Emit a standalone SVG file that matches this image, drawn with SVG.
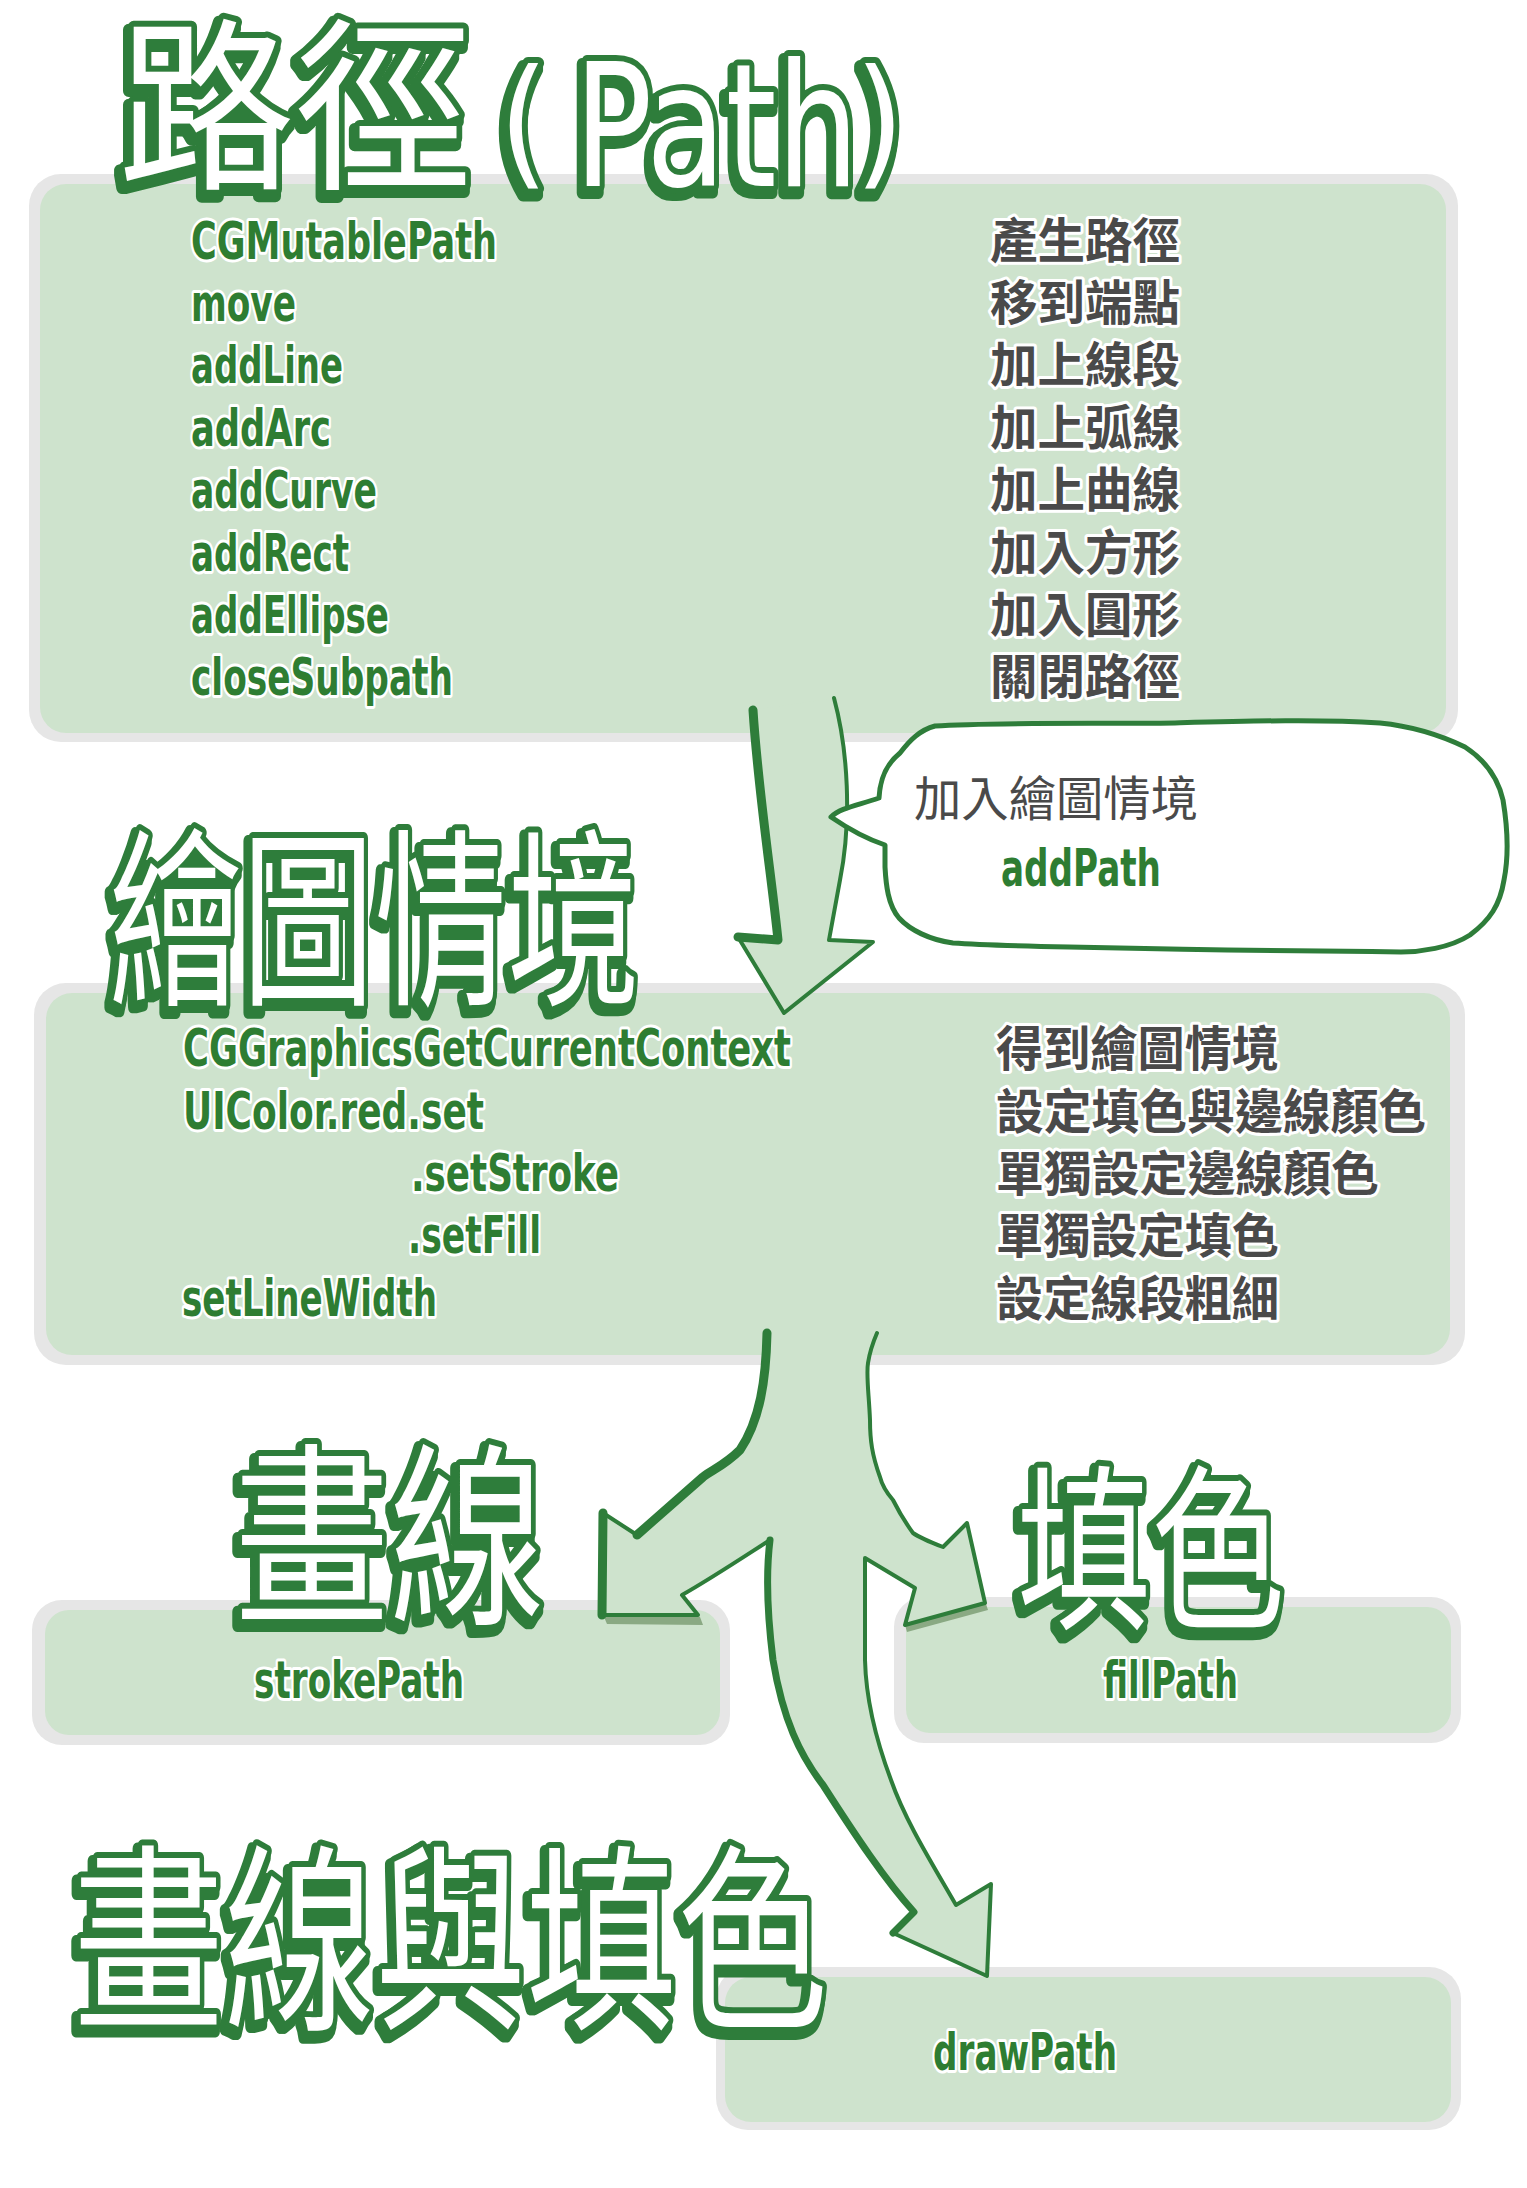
<svg xmlns="http://www.w3.org/2000/svg" width="1527" height="2188" viewBox="0 0 1527 2188">
<defs>
<style>
.bg{fill:#ffffff}
.shadow{fill:#e6e6e6}
.box{fill:#cee3cd}
.code{font-family:"DejaVu Sans Condensed","Liberation Sans Narrow","DejaVu Sans","Liberation Sans",sans-serif;font-weight:bold;font-size:52px;fill:#2e7d32;stroke:#ffffff;stroke-width:6;paint-order:stroke;stroke-linejoin:round}
.zh{font-family:"Noto Sans CJK TC","Noto Sans CJK SC",sans-serif;font-weight:bold;font-size:48px;fill:#4a4a4a;stroke:#ffffff;stroke-width:6;paint-order:stroke;stroke-linejoin:round}
.title{font-family:"Noto Sans CJK TC","Noto Sans CJK SC",sans-serif;font-weight:normal;fill:#ffffff;stroke:#2e7d3a;stroke-width:12;stroke-linejoin:round;paint-order:stroke;filter:url(#tsh)}
.titlel{font-family:"DejaVu Sans Condensed","DejaVu Sans","Liberation Sans",sans-serif;font-weight:normal;fill:#ffffff;stroke:#2e7d3a;stroke-width:12;stroke-linejoin:round;paint-order:stroke;filter:url(#tsh)}
.afill{fill:#cee3cd;stroke:none}
.aline{fill:none;stroke:#2e7d3a;stroke-width:4;stroke-linejoin:round;stroke-linecap:round}
.athick{fill:none;stroke:#2e7d3a;stroke-width:9;stroke-linejoin:round;stroke-linecap:round}
.ashadow{fill:#8aa983;stroke:none}
.bubble{fill:#ffffff;stroke:#2e7d3a;stroke-width:5;stroke-linejoin:round}
</style>
<filter id="tsh" x="-10%" y="-15%" width="120%" height="135%">
<feMorphology in="SourceAlpha" operator="dilate" radius="1.5" result="d"/>
<feOffset in="d" dx="-3" dy="5" result="o"/>
<feFlood flood-color="#2e7d3a"/>
<feComposite in2="o" operator="in" result="s"/>
<feMerge><feMergeNode in="s"/><feMergeNode in="SourceGraphic"/></feMerge>
</filter>
</defs>
<rect class="bg" x="0" y="0" width="1527" height="2188"/>

<g id="node-path">
<rect class="shadow" x="29" y="174" width="1429" height="568" rx="32"/>
<rect class="box" x="40" y="184" width="1406" height="549" rx="26"/>
<text class="code" x="191" y="259" textLength="306" lengthAdjust="spacingAndGlyphs">CGMutablePath</text>
<text class="code" x="191" y="321" textLength="105" lengthAdjust="spacingAndGlyphs">move</text>
<text class="code" x="191" y="383" textLength="152" lengthAdjust="spacingAndGlyphs">addLine</text>
<text class="code" x="191" y="446" textLength="140" lengthAdjust="spacingAndGlyphs">addArc</text>
<text class="code" x="191" y="508" textLength="186" lengthAdjust="spacingAndGlyphs">addCurve</text>
<text class="code" x="191" y="571" textLength="158" lengthAdjust="spacingAndGlyphs">addRect</text>
<text class="code" x="191" y="633" textLength="198" lengthAdjust="spacingAndGlyphs">addEllipse</text>
<text class="code" x="191" y="695" textLength="262" lengthAdjust="spacingAndGlyphs">closeSubpath</text>
<text class="zh" x="990" y="258" textLength="190" lengthAdjust="spacingAndGlyphs">產生路徑</text>
<text class="zh" x="990" y="320" textLength="190" lengthAdjust="spacingAndGlyphs">移到端點</text>
<text class="zh" x="990" y="382" textLength="190" lengthAdjust="spacingAndGlyphs">加上線段</text>
<text class="zh" x="990" y="445" textLength="190" lengthAdjust="spacingAndGlyphs">加上弧線</text>
<text class="zh" x="990" y="507" textLength="190" lengthAdjust="spacingAndGlyphs">加上曲線</text>
<text class="zh" x="990" y="570" textLength="190" lengthAdjust="spacingAndGlyphs">加入方形</text>
<text class="zh" x="990" y="632" textLength="190" lengthAdjust="spacingAndGlyphs">加入圓形</text>
<text class="zh" x="990" y="694" textLength="190" lengthAdjust="spacingAndGlyphs">關閉路徑</text>
</g>

<g id="node-context">
<rect class="shadow" x="34" y="983" width="1431" height="382" rx="32"/>
<rect class="box" x="46" y="993" width="1404" height="362" rx="26"/>
<text class="code" x="183" y="1066" textLength="608" lengthAdjust="spacingAndGlyphs">CGGraphicsGetCurrentContext</text>
<text class="code" x="183" y="1129" textLength="301" lengthAdjust="spacingAndGlyphs">UIColor.red.set</text>
<text class="code" x="411" y="1191" textLength="208" lengthAdjust="spacingAndGlyphs">.setStroke</text>
<text class="code" x="408" y="1253" textLength="133" lengthAdjust="spacingAndGlyphs">.setFill</text>
<text class="code" x="182" y="1316" textLength="255" lengthAdjust="spacingAndGlyphs">setLineWidth</text>
<text class="zh" x="996" y="1066" textLength="283" lengthAdjust="spacingAndGlyphs">得到繪圖情境</text>
<text class="zh" x="996" y="1129" textLength="430" lengthAdjust="spacingAndGlyphs">設定填色與邊線顏色</text>
<text class="zh" x="996" y="1191" textLength="383" lengthAdjust="spacingAndGlyphs">單獨設定邊線顏色</text>
<text class="zh" x="996" y="1253" textLength="283" lengthAdjust="spacingAndGlyphs">單獨設定填色</text>
<text class="zh" x="996" y="1316" textLength="283" lengthAdjust="spacingAndGlyphs">設定線段粗細</text>
</g>

<g id="node-stroke">
<rect class="shadow" x="32" y="1600" width="698" height="145" rx="30"/>
<rect class="box" x="45" y="1610" width="675" height="125" rx="24"/>
<text class="code" x="254" y="1698" font-size="50" textLength="210" lengthAdjust="spacingAndGlyphs">strokePath</text>
</g>

<g id="node-fill">
<rect class="shadow" x="894" y="1597" width="567" height="146" rx="30"/>
<rect class="box" x="906" y="1607" width="545" height="126" rx="24"/>
<text class="code" x="1103" y="1698" font-size="50" textLength="135" lengthAdjust="spacingAndGlyphs">fillPath</text>
</g>

<g id="node-draw">
<rect class="shadow" x="716" y="1967" width="745" height="163" rx="32"/>
<rect class="box" x="725" y="1977" width="726" height="145" rx="26"/>
<text class="code" x="933" y="2070" textLength="184" lengthAdjust="spacingAndGlyphs">drawPath</text>
</g>

<g id="connectors">
<path class="afill" d="M753,710 C758,790 772,880 778,940 L738,937 L784,1013 L873,942 L829,940 L840,880 C852,820 848,750 834,698 Z"/>
<path class="aline" d="M834,698 C848,750 852,820 840,880 L829,940 L873,942 L784,1013 L738,937 L778,940"/>
<path class="athick" d="M753,710 C758,790 772,880 778,940 L738,937"/>

<path class="ashadow" d="M604,1617 L700,1617 L703,1625 L607,1624 Z"/>
<path class="ashadow" d="M905,1625 L986,1604 L988,1610 L907,1632 Z"/>
<path class="afill" d="M767,1333 C766,1380 760,1420 740,1450 C725,1465 712,1470 703,1477 L637,1535 L603,1513 L602,1615 L698,1615 L682,1595 C712,1578 745,1556 770,1540 C765,1580 768,1620 773,1660 C783,1720 800,1755 823,1785 C855,1835 885,1880 914,1912 L893,1933 L987,1976 L991,1884 L956,1905 C930,1860 905,1820 891,1780 C876,1740 866,1700 865,1660 L865,1558 L915,1588 L905,1625 L985,1603 L967,1523 L943,1547 C930,1542 920,1538 913,1533 C905,1522 898,1510 893,1500 C886,1492 882,1485 880,1477 C872,1455 870,1440 870,1420 C869,1395 866,1375 868,1363 C870,1350 874,1340 877,1333 Z"/>
<path class="aline" d="M767,1333 C766,1380 760,1420 740,1450 C725,1465 712,1470 703,1477 L637,1535 L603,1513 L602,1615 L698,1615 L682,1595 C712,1578 745,1556 770,1540 C765,1580 768,1620 773,1660 C783,1720 800,1755 823,1785 C855,1835 885,1880 914,1912 L893,1933 L987,1976 L991,1884 L956,1905 C930,1860 905,1820 891,1780 C876,1740 866,1700 865,1660 L865,1558 L915,1588 L905,1625 L985,1603 L967,1523 L943,1547 C930,1542 920,1538 913,1533 C905,1522 898,1510 893,1500 C886,1492 882,1485 880,1477 C872,1455 870,1440 870,1420 C869,1395 866,1375 868,1363 C870,1350 874,1340 877,1333"/>
<path class="athick" d="M767,1333 C766,1380 760,1420 740,1450 C725,1465 712,1470 703,1477 L637,1535"/>
<path class="athick" d="M603,1513 L602,1615"/>
<path class="athick" style="stroke-width:7" d="M770,1540 C765,1580 768,1620 773,1660 C783,1720 800,1755 823,1785 C855,1835 885,1880 914,1912 L893,1933"/>
</g>

<g id="node-bubble">
<path class="bubble" d="M831,817 C840,808 855,806 879,798 C880,780 885,765 900,753 C910,740 920,730 935,726 C990,722 1100,724 1175,723 C1250,721 1320,719 1380,723 C1410,726 1440,735 1465,747 C1485,760 1498,778 1503,800 C1508,830 1508,860 1504,880 C1500,905 1490,920 1470,935 C1450,948 1420,952 1401,952 C1330,951 1250,950 1227,950 C1170,949 1100,948 1069,947 C1020,946 980,945 953,943 C930,940 910,930 899,918 C888,905 886,885 885,867 L885,845 C870,840 850,830 831,817 Z"/>
<text class="zh" x="914" y="816" textLength="284" lengthAdjust="spacingAndGlyphs" style="stroke:none;font-weight:normal">加入繪圖情境</text>
<text class="code" x="1001" y="886" font-size="46" textLength="160" lengthAdjust="spacingAndGlyphs" style="stroke:none">addPath</text>
</g>

<g id="titles">
<text class="title" x="118" y="175" font-size="185" textLength="354" lengthAdjust="spacingAndGlyphs">路徑</text>
<text class="titlel" x="499" y="170" font-size="140">(</text>
<text class="titlel" x="574" y="186" font-size="172" textLength="285" lengthAdjust="spacingAndGlyphs">Path</text>
<text class="titlel" x="855" y="170" font-size="140">)</text>
<text class="title" x="109" y="990" font-size="190" textLength="531" lengthAdjust="spacingAndGlyphs">繪圖情境</text>
<text class="title" x="234" y="1609" font-size="195" textLength="311" lengthAdjust="spacingAndGlyphs">畫線</text>
<text class="title" x="1017" y="1616" font-size="178" textLength="268" lengthAdjust="spacingAndGlyphs">填色</text>
<text class="title" x="73" y="2014" font-size="200" textLength="755" lengthAdjust="spacingAndGlyphs">畫線與填色</text>
</g>
</svg>
